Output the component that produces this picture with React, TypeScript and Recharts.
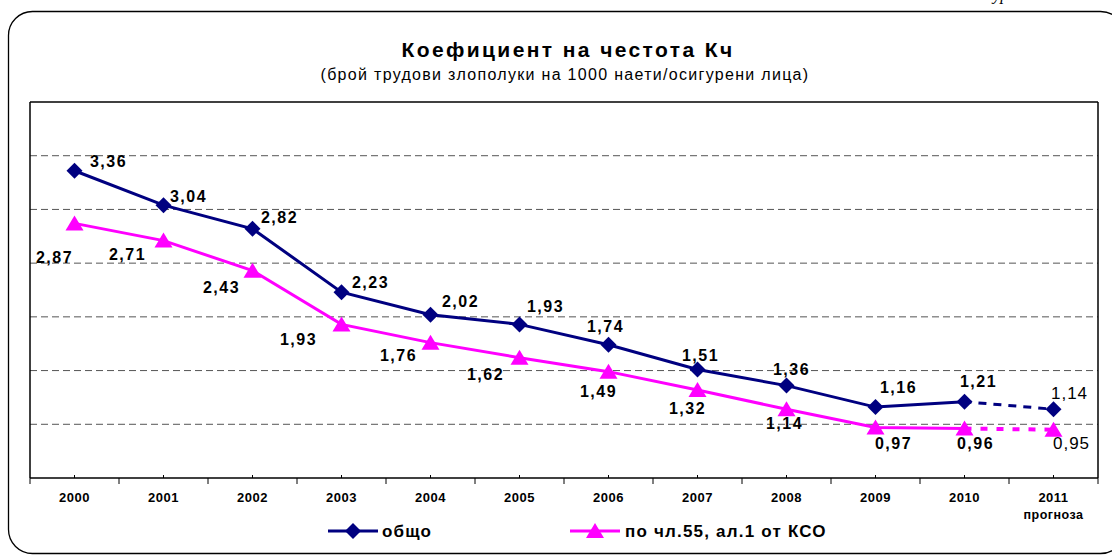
import { LabelList, Line, LineChart, ReferenceLine, XAxis, YAxis } from 'recharts';

const years = ['2000', '2001', '2002', '2003', '2004', '2005', '2006', '2007', '2008', '2009', '2010', '2011'];
const total = [3.36, 3.04, 2.82, 2.23, 2.02, 1.93, 1.74, 1.51, 1.36, 1.16, 1.21, null];
const totalForecast = [null, null, null, null, null, null, null, null, null, null, 1.21, 1.14];
const art55 = [2.87, 2.71, 2.43, 1.93, 1.76, 1.62, 1.49, 1.32, 1.14, 0.97, 0.96, null];
const art55Forecast = [null, null, null, null, null, null, null, null, null, null, 0.96, 0.95];
const yDomain = [0.5, 4];
const gridValues = [1, 1.5, 2, 2.5, 3, 3.5];

const data = years.map((year, i) => ({
  year,
  total: total[i],
  totalForecast: totalForecast[i],
  art55: art55[i],
  art55Forecast: art55Forecast[i],
}));

// label nudges relative to the point (label centre)
const totalLabelOffsets = [
  [34, -9], [25, -9], [27, -11], [29, -10], [30, -13], [26, -18],
  [-3, -18], [3, -14], [5, -16], [23, -20], [14, -20], [16, -16],
];
const art55LabelOffsets = [
  [-20, 34], [-36, 14], [-31, 17], [-43, 15], [-32, 13], [-34, 17],
  [-10, 20], [-10, 19], [-2, 14], [18, 16], [11, 15], [18, 14],
];

const FONT = '"Liberation Sans", Arial, sans-serif';
const NAVY = '#000080';
const PINK = '#FF00FF';
const W = 1112;
const H = 557;
const PLOT_L = 30;
const PLOT_R = 1098;
const PLOT_T = 102;
const PLOT_B = 478;
const HALF_BAND = (PLOT_R - PLOT_L) / years.length / 2;
const LAST = years.length - 1;

const fmt = (v: number) => v.toFixed(2).replace('.', ',');

function makeLabel(offsets: number[][], from: number, to: number, bold: boolean, size: number) {
  return (props: any) => {
    const { x, y, value, index } = props;
    if (value == null || index < from || index > to) return null;
    const [dx, dy] = offsets[index];
    return (
      <text
        x={x + dx}
        y={y + dy}
        textAnchor="middle"
        dominantBaseline="central"
        fontFamily={FONT}
        fontSize={size}
        fontWeight={bold ? 'bold' : 'normal'}
        letterSpacing={bold ? 1.5 : 1}
        fill="#000"
      >
        {fmt(value)}
      </text>
    );
  };
}

function diamond(cx: number, cy: number, key: any) {
  return (
    <polygon
      key={key}
      points={`${cx},${cy - 8} ${cx + 8},${cy} ${cx},${cy + 8} ${cx - 8},${cy}`}
      fill={NAVY}
    />
  );
}

function triangle(cx: number, cy: number, key: any) {
  return (
    <polygon
      key={key}
      points={`${cx},${cy - 8} ${cx + 9},${cy + 7} ${cx - 9},${cy + 7}`}
      fill={PINK}
    />
  );
}

function makeDot(shape: typeof diamond, onlyLast: boolean) {
  return (props: any) => {
    const { cx, cy, index, value } = props;
    if (value == null || cx == null || cy == null || (onlyLast && index !== LAST)) {
      return <g key={`d${index}`} />;
    }
    return shape(cx, cy, `d${index}`);
  };
}

function YearTick(props: any) {
  const { x, y, payload, index } = props;
  return (
    <g>
      <line x1={x - HALF_BAND} y1={y} x2={x - HALF_BAND} y2={y + 6} stroke="#000" strokeWidth={1} />
      {index === LAST && (
        <line x1={x + HALF_BAND} y1={y} x2={x + HALF_BAND} y2={y + 6} stroke="#000" strokeWidth={1} />
      )}
      <line x1={x} y1={y - 3} x2={x} y2={y} stroke="#000" strokeWidth={1} />
      <text x={x} y={y + 24} textAnchor="middle" fontFamily={FONT} fontSize={13} fontWeight="bold" letterSpacing={0.5} fill="#000">
        {payload.value}
      </text>
      {index === LAST && (
        <text x={x} y={y + 41} textAnchor="middle" fontFamily={FONT} fontSize={12.5} fontWeight="bold" letterSpacing={0.5} fill="#000">
          прогноза
        </text>
      )}
    </g>
  );
}

export default function App() {
  return (
    <div style={{ position: 'absolute', left: 0, top: 0, width: W, height: H, background: '#fff', overflow: 'hidden' }}>
      <svg width={W} height={H} style={{ position: 'absolute', left: 0, top: 0, pointerEvents: 'none' }}>
        <text x={993} y={0} fontFamily='"Liberation Serif", "Times New Roman", serif' fontStyle="italic" fontSize={17} fill="#000">
          ур
        </text>
        <rect x={8.5} y={11.5} width={1116} height={542} rx={24} ry={24} fill="none" stroke="#000" strokeWidth={1.3} />
        <text x={568} y={57} textAnchor="middle" fontFamily={FONT} fontSize={21} fontWeight="bold" letterSpacing={2.4} fill="#000">
          Коефициент на честота Кч
        </text>
        <text x={565} y={80} textAnchor="middle" fontFamily={FONT} fontSize={16} letterSpacing={1.3} fill="#000">
          (брой трудови злополуки на 1000 наети/осигурени лица)
        </text>

        <line x1={328} y1={531} x2={378} y2={531} stroke={NAVY} strokeWidth={3} />
        {diamond(353, 531, 'ld')}
        <text x={382} y={537} fontFamily={FONT} fontSize={17} fontWeight="bold" letterSpacing={1.2} fill="#000">
          общо
        </text>
        <line x1={570} y1={531} x2={620} y2={531} stroke={PINK} strokeWidth={3} />
        {triangle(595, 531, 'lt')}
        <text x={625} y={537} fontFamily={FONT} fontSize={17} fontWeight="bold" letterSpacing={1.2} fill="#000">
          по чл.55, ал.1 от КСО
        </text>
      </svg>

      <div style={{ position: 'absolute', left: 0, top: 0 }}>
        <LineChart
          width={W}
          height={H}
          data={data}
          margin={{ top: PLOT_T, right: W - PLOT_R, left: PLOT_L, bottom: H - PLOT_B - 40 }}
        >
          <XAxis
            dataKey="year"
            scale="band"
            interval={0}
            height={40}
            tickLine={false}
            tickSize={0}
            tickMargin={0}
            axisLine={{ stroke: '#000', strokeWidth: 1.3 }}
            tick={<YearTick />}
          />
          <YAxis domain={yDomain} type="number" width={0} tick={false} tickLine={false} axisLine={false} />
          {gridValues.map((v) => (
            <ReferenceLine key={v} y={v} stroke="#555" strokeDasharray="7 4" strokeWidth={1} />
          ))}
          <Line
            dataKey="total"
            stroke={NAVY}
            strokeWidth={3}
            dot={makeDot(diamond, false)}
            activeDot={false}
            isAnimationActive={false}
          >
            <LabelList dataKey="total" content={makeLabel(totalLabelOffsets, 0, LAST - 1, true, 16)} />
          </Line>
          <Line
            dataKey="totalForecast"
            stroke={NAVY}
            strokeWidth={3}
            strokeDasharray="8 7"
            strokeDashoffset={-14}
            dot={makeDot(diamond, true)}
            activeDot={false}
            isAnimationActive={false}
          >
            <LabelList dataKey="totalForecast" content={makeLabel(totalLabelOffsets, LAST, LAST, false, 17)} />
          </Line>
          <Line
            dataKey="art55"
            stroke={PINK}
            strokeWidth={3}
            dot={makeDot(triangle, false)}
            activeDot={false}
            isAnimationActive={false}
          >
            <LabelList dataKey="art55" content={makeLabel(art55LabelOffsets, 0, LAST - 1, true, 16)} />
          </Line>
          <Line
            dataKey="art55Forecast"
            stroke={PINK}
            strokeWidth={4}
            strokeDasharray="7 9"
            strokeDashoffset={-16}
            dot={makeDot(triangle, true)}
            activeDot={false}
            isAnimationActive={false}
          >
            <LabelList dataKey="art55Forecast" content={makeLabel(art55LabelOffsets, LAST, LAST, false, 17)} />
          </Line>
        </LineChart>
      </div>
      {/* plot frame: top, right and left edges (bottom is the x axis line) */}
      <svg width={W} height={H} style={{ position: 'absolute', left: 0, top: 0, pointerEvents: 'none', zIndex: 2 }}>
        <line x1={PLOT_L} y1={PLOT_T} x2={PLOT_R} y2={PLOT_T} stroke="#000" strokeWidth={1.5} />
        <line x1={PLOT_R} y1={PLOT_T} x2={PLOT_R} y2={PLOT_B} stroke="#000" strokeWidth={1.5} />
        <line x1={PLOT_L} y1={PLOT_T} x2={PLOT_L} y2={PLOT_B} stroke="#000" strokeWidth={1.5} />
      </svg>
    </div>
  );
}
